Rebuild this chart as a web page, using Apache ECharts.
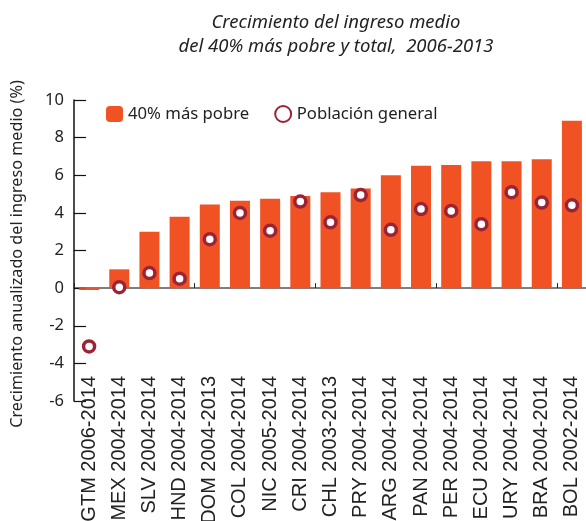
<!DOCTYPE html>
<html>
<head>
<meta charset="utf-8">
<script src="https://cdn.jsdelivr.net/npm/echarts@6/dist/echarts.min.js"></script>
<style>
  html, body { margin: 0; padding: 0; background: #fff; }
  #chart { width: 586px; height: 521px; }
</style>
</head>
<body>
<div id="chart"></div>
<script>
var paises = ['GTM 2006-2014', 'MEX 2004-2014', 'SLV 2004-2014', 'HND 2004-2014', 'DOM 2004-2013',
    'COL 2004-2014', 'NIC 2005-2014', 'CRI 2004-2014', 'CHL 2003-2013', 'PRY 2004-2014',
    'ARG 2004-2014', 'PAN 2004-2014', 'PER 2004-2014', 'ECU 2004-2014', 'URY 2004-2014',
    'BRA 2004-2014', 'BOL 2002-2014'];
var pobre40 = [-0.1, 1.0, 3.0, 3.8, 4.45, 4.65, 4.75, 4.9, 5.1, 5.3, 6.0, 6.5, 6.55, 6.75, 6.75, 6.85, 8.9];
var poblacion = [-3.1, 0.05, 0.8, 0.5, 2.6, 4.0, 3.05, 4.6, 3.5, 4.95, 3.1, 4.2, 4.1, 3.4, 5.1, 4.55, 4.4];

var naranja = '#F05223';
var granate = '#9B2335';
var fuente = 'Noto Sans';

var chart = echarts.init(document.getElementById('chart'));
var option = {
    animation: false,
    title: {
        text: 'Crecimiento del ingreso medio\ndel 40% más pobre y total,  2006-2013',
        left: 331,
        top: 6,
        textAlign: 'center',
        textStyle: {
            fontFamily: fuente,
            fontStyle: 'italic',
            fontWeight: 'normal',
            fontSize: 18.5,
            lineHeight: 24,
            color: '#222'
        }
    },
    legend: {
        left: 101,
        top: 100,
        itemWidth: 17,
        itemHeight: 16,
        itemGap: 25,
        textStyle: { fontFamily: fuente, fontSize: 16.7, color: '#222' },
        data: ['40% más pobre', 'Población general']
    },
    grid: { left: 74, right: -1, top: 100, bottom: 120, outerBoundsMode: 'none' },
    xAxis: [
        {
            type: 'category',
            data: paises,
            position: 'bottom',
            axisLine: { show: false, onZero: false },
            axisTick: { show: false },
            axisLabel: {
                interval: 0,
                rotate: 90,
                margin: -25,
                fontFamily: 'Liberation Sans',
                fontSize: 20,
                color: '#222'
            }
        },
        {
            type: 'category',
            data: paises,
            position: 'bottom',
            axisLine: { show: true, onZero: true, lineStyle: { color: '#555', width: 1.5 } },
            axisTick: { show: true, inside: true, length: 5, lineStyle: { color: '#222' } },
            axisLabel: { show: false }
        }
    ],
    yAxis: {
        type: 'value',
        min: -6,
        max: 10,
        interval: 2,
        name: 'Crecimiento anualizado del ingreso medio (%)',
        nameLocation: 'middle',
        nameRotate: 90,
        nameGap: 49,
        nameTextStyle: { fontFamily: fuente, fontSize: 16.2, color: '#222', padding: [0, 7, 0, 0] },
        axisLine: { show: true, lineStyle: { color: '#111', width: 1.5 } },
        axisTick: { show: true, inside: true, length: 12, lineStyle: { color: '#111', width: 1.2 } },
        axisLabel: { margin: 10, fontFamily: fuente, fontSize: 16.5, color: '#222' },
        splitLine: { show: false }
    },
    series: [
        {
            name: '40% más pobre',
            type: 'bar',
            xAxisIndex: 0,
            barWidth: 20,
            itemStyle: { color: naranja },
            data: pobre40
        },
        {
            name: 'Población general',
            type: 'scatter',
            xAxisIndex: 0,
            symbol: 'circle',
            symbolSize: 11,
            itemStyle: { color: '#fff', borderColor: granate, borderWidth: 3.5, opacity: 1 },
            data: poblacion,
            z: 3
        }
    ]
};
chart.setOption(option);
</script>
</body>
</html>
